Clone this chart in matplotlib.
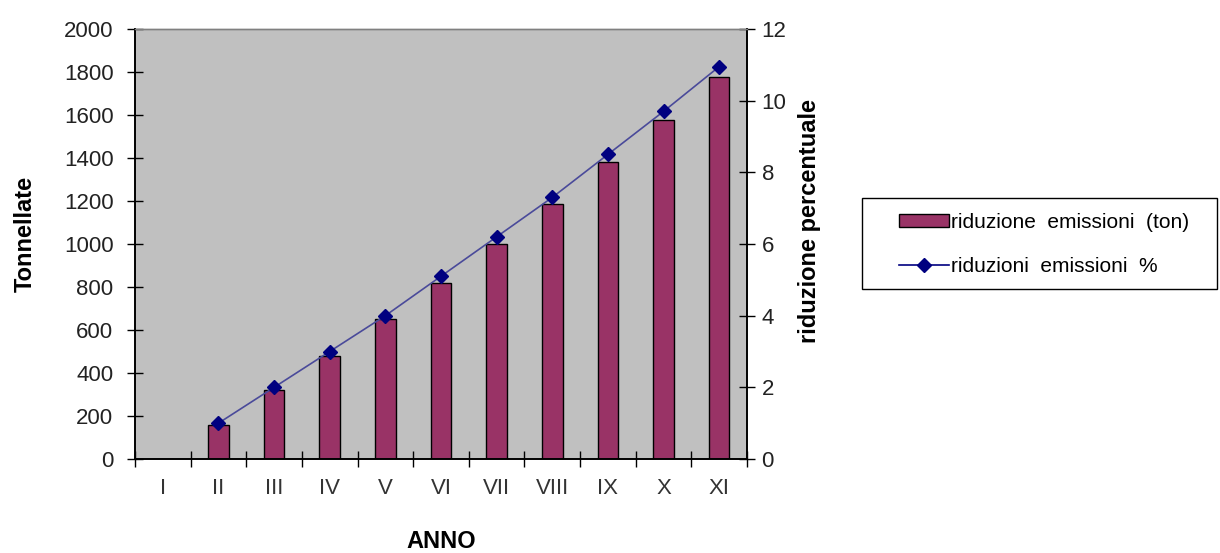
import numpy as np
import matplotlib
matplotlib.use("Agg")
from matplotlib import pyplot as plt
from matplotlib.lines import Line2D
from matplotlib.patches import Patch, Rectangle

plt.rcParams["font.family"] = ["Liberation Sans", "DejaVu Sans"]

anni = ["I", "II", "III", "IV", "V", "VI", "VII", "VIII", "IX", "X", "XI"]
riduzione_ton = [0, 160, 320, 480, 650, 820, 1000, 1185, 1380, 1575, 1775]
riduzione_pct = [np.nan, 1.0, 2.0, 3.0, 4.0, 5.1, 6.2, 7.3, 8.5, 9.7, 10.95]

x = np.arange(len(anni))
W, H = 1220, 553

fig = plt.figure(figsize=(W / 100, H / 100), dpi=100)
ax = fig.add_axes([135 / W, 1 - 459 / H, (747 - 135) / W, (459 - 29) / H])
ax.set_facecolor("#c0c0c0")

ax.bar(x, riduzione_ton, width=0.37, color="#993366", edgecolor="black", linewidth=1, zorder=2)
ax.set_xlim(-0.5, len(anni) - 0.5)
ax.set_ylim(0, 2000)
ax.set_yticks(range(0, 2001, 200))
ax.set_xticks(np.arange(-0.5, len(anni), 1.0))
ax.set_xticklabels([])
ax.set_xticks(x, minor=True)
ax.set_xticklabels(anni, minor=True)
ax.tick_params(axis="x", which="minor", length=0, pad=14, labelsize=16, labelcolor="#333333")
ax.tick_params(axis="x", which="major", direction="inout", length=11, width=1)
ax.tick_params(axis="y", direction="inout", length=11, width=1, labelsize=16, labelcolor="#222222", pad=10)

ax2 = ax.twinx()
ax2.plot(x, riduzione_pct, color="#4a4a9a", linewidth=1.2, marker="D", markersize=7,
         markerfacecolor="#000080", markeredgecolor="#000080", zorder=3)
ax2.set_ylim(0, 12)
ax2.set_yticks(range(0, 13, 2))
ax2.tick_params(axis="y", direction="inout", length=11, width=1, labelsize=16, labelcolor="#222222", pad=5)

for a in (ax, ax2):
    a.spines["top"].set_color("#808080")
    a.spines["top"].set_linewidth(1)
    a.spines["left"].set_linewidth(1.2)
    a.spines["right"].set_linewidth(1.2)
    a.spines["bottom"].set_linewidth(1.2)

ax.set_ylabel("Tonnellate", fontsize=17, fontweight="bold")
ax.yaxis.set_label_coords((25 - 135) / (747 - 135), (459 - 234) / (459 - 29))
ax2.set_ylabel("riduzione percentuale", fontsize=17, fontweight="bold")
ax2.yaxis.set_label_coords((810 - 135) / (747 - 135), (459 - 221) / (459 - 29))
ax.set_xlabel("ANNO", fontsize=17, fontweight="bold")
ax.xaxis.set_label_coords(0.5, (459 - 541) / (459 - 29))
ax.xaxis.label.set_va("center")
ax.yaxis.label.set_va("center")
ax2.yaxis.label.set_va("center")

# legend frame drawn by hand, entries placed inside it
fig.patches.append(Rectangle((862 / W, 1 - 289 / H), (1217 - 862) / W, (289 - 198) / H,
                             transform=fig.transFigure, facecolor="white",
                             edgecolor="black", linewidth=1))
handles = [
    Patch(facecolor="#993366", edgecolor="black", linewidth=1),
    Line2D([0], [0], color="#000080", linewidth=1.2, marker="D", markersize=7,
           markerfacecolor="#000080"),
]
labels = ["riduzione  emissioni  (ton)", "riduzioni  emissioni  %"]
leg = fig.legend(handles, labels, loc="upper left", bbox_to_anchor=(899 / W, 1 - 213 / H),
                 fontsize=15, frameon=False, handlelength=2.4, handleheight=0.55,
                 handletextpad=0.1, borderpad=0, labelspacing=1.2, borderaxespad=0)

fig.savefig("out.png", dpi=100, facecolor="white")
